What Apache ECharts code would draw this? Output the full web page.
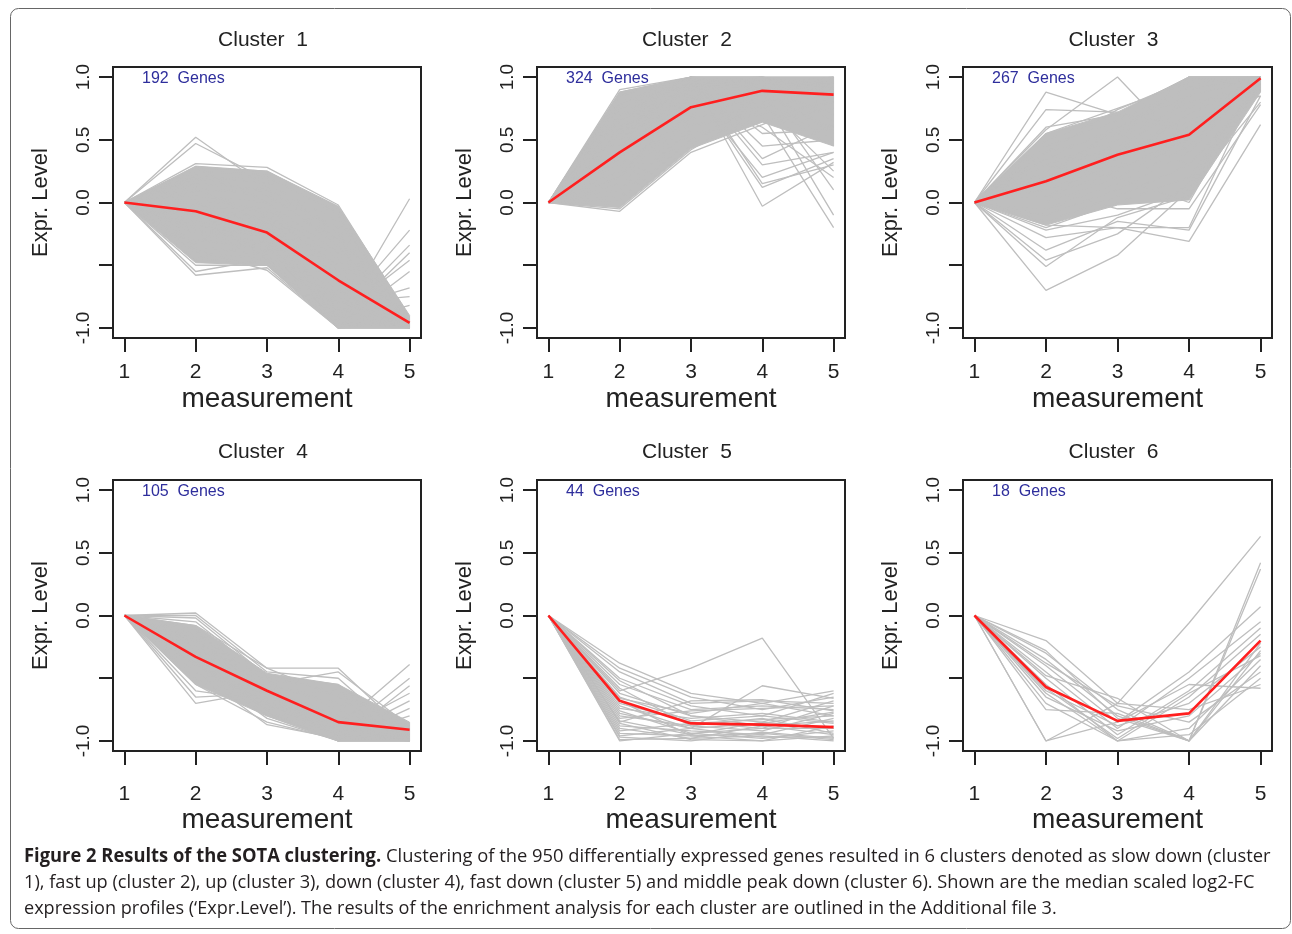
<!DOCTYPE html>
<html>
<head>
<meta charset="utf-8">
<script src="https://cdn.jsdelivr.net/npm/echarts@6/dist/echarts.min.js"></script>
<style>
html,body{margin:0;padding:0;background:#fff;}
#chart{width:1292px;height:934px;}
</style>
</head>
<body>
<div id="chart"></div>
<script>
// ---------------- data ----------------
const measurements = [1, 2, 3, 4, 5];
const yTickValues = [-1, -0.5, 0, 0.5, 1];
const yLabelValues = [-1, 0, 0.5, 1];
const clusterTitles = ['Cluster  1', 'Cluster  2', 'Cluster  3', 'Cluster  4', 'Cluster  5', 'Cluster  6'];
const geneCounts = [192, 324, 267, 105, 44, 18];

// median profiles (red)
const median1 = [0, -0.07, -0.24, -0.62, -0.96];
const median2 = [0, 0.40, 0.76, 0.89, 0.86];
const median3 = [0, 0.17, 0.38, 0.54, 0.99];
const median4 = [0, -0.33, -0.60, -0.85, -0.91];
const median5 = [0, -0.68, -0.86, -0.87, -0.89];
const median6 = [0, -0.57, -0.84, -0.78, -0.20];

// dense core of overlapping gene profiles (upper / lower edge at each measurement)
const band1High = [0, 0.29, 0.25, -0.03, -0.90];
const band1Low  = [0, -0.48, -0.50, -1.00, -1.00];
const band2High = [0, 0.88, 1.00, 1.00, 1.00];
const band2Low  = [0, -0.04, 0.43, 0.64, 0.45];
const band3High = [0, 0.55, 0.72, 1.00, 1.00];
const band3Low  = [0, -0.18, -0.02, 0.02, 0.88];
const band4High = [0, -0.08, -0.46, -0.55, -0.85];
const band4Low  = [0, -0.55, -0.80, -1.00, -1.00];

// individual gene profiles (grey)
const genes1 = [
  [0, 0.52, 0.12, -0.30, -0.96], [0, 0.47, 0.18, -0.25, -1.00], [0, 0.31, 0.28, -0.02, -0.92],
  [0, 0.28, 0.25, -0.05, -0.98], [0, 0.25, 0.22, -0.10, -1.00], [0, 0.22, 0.15, -0.15, -0.95],
  [0, 0.18, 0.20, -0.08, -1.00], [0, 0.15, 0.10, -0.20, -0.98], [0, 0.12, 0.05, -0.30, -1.00],
  [0, 0.08, 0.12, -0.25, -0.94], [0, 0.05, 0.00, -0.40, -1.00], [0, 0.02, -0.05, -0.45, -0.97],
  [0, -0.02, -0.08, -0.55, -1.00], [0, -0.05, -0.12, -0.60, -0.99], [0, -0.08, -0.15, -0.65, -1.00],
  [0, -0.12, -0.20, -0.70, -0.96], [0, -0.15, -0.25, -0.75, -1.00], [0, -0.18, -0.28, -0.80, -0.98],
  [0, -0.22, -0.32, -0.85, -1.00], [0, -0.25, -0.35, -0.90, -1.00], [0, -0.30, -0.38, -0.95, -1.00],
  [0, -0.35, -0.42, -1.00, -1.00], [0, -0.40, -0.45, -0.98, -0.95], [0, -0.45, -0.48, -1.00, -1.00],
  [0, -0.50, -0.50, -1.00, -0.98], [0, -0.55, -0.45, -0.95, -1.00], [0, -0.58, -0.52, -1.00, -0.92],
  [0, -0.38, -0.54, -1.00, -1.00], [0, -0.10, -0.30, -0.94, 0.03], [0, -0.20, -0.25, -0.88, -0.22],
  [0, 0.00, -0.20, -0.92, -0.34], [0, -0.30, -0.35, -0.95, -0.40], [0, 0.10, -0.10, -0.90, -0.46],
  [0, -0.15, -0.40, -0.98, -0.55], [0, -0.25, -0.15, -0.85, -0.68], [0, 0.05, 0.05, -0.80, -0.75],
  [0, -0.05, -0.45, -0.97, -0.82], [0, 0.20, 0.08, -0.35, -0.99], [0, -0.32, -0.10, -0.50, -1.00],
  [0, 0.12, -0.18, -0.70, -0.97], [0, -0.45, -0.30, -0.78, -1.00], [0, 0.28, 0.00, -0.60, -0.95]
];
const genes2 = [
  [0, 0.90, 1.00, 1.00, 1.00], [0, 0.88, 1.00, 0.98, 0.95], [0, 0.85, 0.98, 1.00, 0.90],
  [0, 0.80, 1.00, 0.95, 1.00], [0, 0.75, 0.95, 1.00, 0.85], [0, 0.70, 1.00, 0.90, 0.98],
  [0, 0.65, 0.92, 0.97, 0.80], [0, 0.60, 0.90, 1.00, 0.75], [0, 0.55, 0.88, 0.85, 1.00],
  [0, 0.50, 0.85, 0.92, 0.70], [0, 0.45, 0.82, 0.88, 0.95], [0, 0.40, 0.78, 0.95, 0.65],
  [0, 0.35, 0.75, 0.80, 0.90], [0, 0.30, 0.70, 0.85, 0.60], [0, 0.25, 0.68, 0.75, 0.88],
  [0, 0.20, 0.65, 0.90, 0.55], [0, 0.15, 0.62, 0.70, 0.80], [0, 0.10, 0.58, 0.82, 0.50],
  [0, 0.05, 0.55, 0.65, 0.75], [0, 0.02, 0.50, 0.78, 0.45], [0, -0.03, 0.45, 0.88, 0.70],
  [0, -0.05, 0.42, 0.75, 0.60], [0, -0.07, 0.40, 0.62, 0.85], [0, 0.60, 1.00, 0.45, 0.50],
  [0, 0.70, 1.00, 0.35, 0.62], [0, 0.50, 0.98, 0.30, 0.40], [0, 0.45, 1.00, 0.15, 0.30],
  [0, 0.55, 0.95, 0.12, 0.35], [0, 0.65, 1.00, -0.03, 0.32], [0, 0.40, 0.90, 0.20, 0.40],
  [0, 0.80, 1.00, 0.80, 0.25], [0, 0.35, 0.96, 0.90, 0.10], [0, 0.60, 0.94, 0.85, -0.10],
  [0, 0.75, 1.00, 0.70, -0.20], [0, 0.20, 0.85, 0.60, 0.20], [0, 0.85, 1.00, 0.55, 0.58],
  [0, 0.68, 1.00, 1.00, 0.92], [0, 0.78, 0.97, 0.93, 0.96], [0, 0.58, 0.93, 0.96, 0.88]
];
const genes3 = [
  [0, 0.88, 0.70, 0.55, 0.95], [0, 0.74, 0.72, 0.60, 1.00], [0, 0.58, 1.00, 0.40, 1.00],
  [0, 0.55, 0.75, 0.95, 1.00], [0, 0.50, 0.70, 1.00, 1.00], [0, 0.45, 0.65, 0.92, 0.98],
  [0, 0.40, 0.55, 1.00, 1.00], [0, 0.35, 0.60, 0.85, 1.00], [0, 0.30, 0.50, 0.80, 0.90],
  [0, 0.25, 0.45, 0.75, 1.00], [0, 0.20, 0.40, 0.70, 1.00], [0, 0.15, 0.35, 0.65, 0.85],
  [0, 0.10, 0.30, 0.60, 1.00], [0, 0.05, 0.25, 0.55, 1.00], [0, 0.00, 0.20, 0.50, 0.95],
  [0, -0.05, 0.15, 0.45, 1.00], [0, -0.10, 0.10, 0.40, 1.00], [0, -0.15, 0.05, 0.30, 0.90],
  [0, -0.20, 0.00, 0.20, 1.00], [0, -0.22, -0.10, 0.10, 0.80], [0, 0.30, 0.20, 0.00, 1.00],
  [0, 0.10, -0.05, -0.05, 0.78], [0, -0.18, -0.20, -0.20, 1.00], [0, -0.38, -0.15, -0.22, 0.85],
  [0, -0.46, -0.25, 0.15, 1.00], [0, -0.51, -0.12, 0.05, 0.95], [0, -0.70, -0.42, 0.10, 1.00],
  [0, -0.28, -0.20, -0.31, 0.62], [0, 0.60, 0.70, 1.00, 1.00], [0, 0.40, 0.74, 0.98, 1.00],
  [0, 0.20, 0.60, 0.90, 1.00], [0, 0.00, 0.50, 1.00, 1.00], [0, 0.35, 0.40, 0.85, 1.00],
  [0, 0.05, 0.35, 0.70, 0.97], [0, -0.10, 0.28, 0.50, 1.00], [0, 0.25, 0.55, 0.30, 0.92]
];
const genes4 = [
  [0, 0.02, -0.42, -0.42, -0.95], [0, 0.00, -0.45, -0.50, -1.00], [0, -0.02, -0.48, -0.55, -0.98],
  [0, -0.05, -0.50, -0.60, -0.90], [0, -0.08, -0.42, -0.65, -1.00], [0, -0.10, -0.55, -0.70, -0.97],
  [0, -0.15, -0.52, -0.75, -1.00], [0, -0.18, -0.58, -0.80, -0.95], [0, -0.20, -0.60, -0.85, -1.00],
  [0, -0.25, -0.62, -0.88, -0.98], [0, -0.28, -0.65, -0.90, -1.00], [0, -0.30, -0.68, -0.92, -0.96],
  [0, -0.35, -0.70, -0.95, -1.00], [0, -0.38, -0.72, -0.97, -0.99], [0, -0.40, -0.75, -1.00, -1.00],
  [0, -0.45, -0.78, -0.98, -0.95], [0, -0.50, -0.80, -1.00, -1.00], [0, -0.55, -0.85, -0.99, -0.97],
  [0, -0.60, -0.68, -0.95, -1.00], [0, -0.65, -0.62, -0.90, -0.98], [0, -0.70, -0.60, -1.00, -1.00],
  [0, -0.12, -0.60, -0.88, -0.39], [0, -0.22, -0.65, -0.95, -0.50], [0, -0.35, -0.75, -1.00, -0.56],
  [0, -0.30, -0.70, -0.92, -0.62], [0, -0.20, -0.78, -0.97, -0.68], [0, -0.40, -0.82, -1.00, -0.74],
  [0, -0.45, -0.87, -0.98, -0.80], [0, -0.25, -0.55, -0.45, -0.88], [0, -0.32, -0.58, -0.62, -0.93]
];
const genes5 = [
  [0, -0.38, -0.62, -0.70, -0.60], [0, -0.42, -0.65, -0.75, -0.65], [0, -0.45, -0.70, -0.68, -0.70],
  [0, -0.50, -0.72, -0.80, -0.62], [0, -0.55, -0.75, -0.72, -0.75], [0, -0.60, -0.42, -0.18, -0.98],
  [0, -0.62, -0.80, -0.85, -0.68], [0, -0.66, -0.78, -0.70, -0.80], [0, -0.70, -0.85, -0.90, -0.72],
  [0, -0.74, -0.82, -0.78, -0.85], [0, -0.78, -0.90, -0.56, -0.66], [0, -0.80, -0.88, -0.92, -0.78],
  [0, -0.84, -0.95, -0.85, -0.90], [0, -0.88, -0.92, -0.95, -0.82], [0, -0.90, -0.98, -0.88, -0.95],
  [0, -0.94, -0.96, -1.00, -0.88], [0, -0.97, -1.00, -0.93, -0.98], [0, -1.00, -0.94, -0.98, -0.92],
  [0, -0.99, -0.98, -0.96, -1.00], [0, -0.85, -0.68, -0.67, -0.76], [0, -0.72, -0.90, -0.97, -0.97],
  [0, -0.58, -0.88, -0.82, -0.94], [0, -0.65, -0.84, -0.80, -0.86], [0, -0.76, -0.94, -0.90, -0.90],
  [0, -0.82, -0.76, -0.74, -0.72], [0, -0.92, -0.86, -0.83, -0.80], [0, -0.52, -0.80, -0.88, -0.84],
  [0, -0.68, -0.96, -0.94, -0.99], [0, -0.96, -0.90, -0.86, -0.77], [0, -0.86, -0.99, -1.00, -0.96]
];
const genes6 = [
  [0, -0.20, -0.70, -0.06, 0.63], [0, -0.30, -0.75, -1.00, 0.42], [0, -0.35, -0.80, -1.00, 0.37],
  [0, -0.40, -0.85, -0.45, 0.07], [0, -0.45, -0.90, -0.50, -0.05], [0, -0.50, -0.95, -0.60, -0.10],
  [0, -0.55, -1.00, -0.65, -0.15], [0, -0.60, -0.88, -0.70, -0.25], [0, -0.65, -0.92, -0.80, -0.30],
  [0, -0.70, -1.00, -0.90, -0.35], [0, -0.75, -0.78, -1.00, -0.40], [0, -0.62, -1.00, -0.95, -0.50],
  [0, -1.00, -0.70, -0.75, -0.55], [0, -1.00, -0.85, -0.55, -0.58], [0, -0.48, -0.66, -1.00, -0.28],
  [0, -0.38, -0.72, -0.85, -0.45], [0, -0.58, -0.98, -0.62, -0.32], [0, -0.28, -0.82, -1.00, -0.22]
];

const captionBold = 'Figure 2 Results of the SOTA clustering.';
const captionLines = [
  ' Clustering of the 950 differentially expressed genes resulted in 6 clusters denoted as slow down (cluster',
  '1), fast up (cluster 2), up (cluster 3), down (cluster 4), fast down (cluster 5) and middle peak down (cluster 6). Shown are the median scaled log2-FC',
  'expression profiles (\u2018Expr.Level\u2019). The results of the enrichment analysis for each cluster are outlined in the Additional file 3.'
];

// ---------------- layout ----------------
const geneSets = [genes1, genes2, genes3, genes4, genes5, genes6];
const medians = [median1, median2, median3, median4, median5, median6];
const bandHighs = [band1High, band2High, band3High, band4High, null, null];
const bandLows = [band1Low, band2Low, band3Low, band4Low, null, null];
const colLeft = [113, 537, 963];
const colWidth = [308, 308, 309];
const rowTop = [67, 480];
const boxH = 271;
const rowLabelMargin = [24, 33];
const rowNameGap = [47, 55];
const rowTitleY = [40, 452];
const rowGenesY = [79, 492];
const FONT = 'Liberation Sans, Arial, Helvetica, sans-serif';
const INK = '#222';
const GREY = '#bebebe';

const grids = [], xAxes = [], yAxes = [], series = [], graphics = [];

for (let i = 0; i < 6; i++) {
  const c = i % 3, r = Math.floor(i / 3);
  const left = colLeft[c], top = rowTop[r], w = colWidth[c];
  grids.push({left: left, top: top, width: w, height: boxH, show: true,
    borderColor: INK, borderWidth: 2, backgroundColor: 'transparent'});
  xAxes.push({
    gridIndex: i, type: 'value', min: 0.84, max: 5.16,
    axisLine: {show: false, onZero: false},
    splitLine: {show: false},
    axisTick: {show: true, customValues: measurements, length: 14, lineStyle: {color: INK, width: 2}},
    axisLabel: {customValues: measurements, margin: rowLabelMargin[r], fontSize: 21, color: INK, fontFamily: FONT,
      formatter: v => String(v)},
    name: 'measurement', nameLocation: 'middle', nameGap: rowNameGap[r],
    nameTextStyle: {fontSize: 28, color: INK, fontFamily: FONT}
  });
  yAxes.push({
    gridIndex: i, type: 'value', min: -1.08, max: 1.08,
    axisLine: {show: false, onZero: false},
    splitLine: {show: false},
    axisTick: {show: true, customValues: yTickValues, length: 14, lineStyle: {color: INK, width: 2}},
    axisLabel: {customValues: yLabelValues, rotate: 90, margin: 20, fontSize: 19, color: INK, fontFamily: FONT,
      formatter: v => v.toFixed(1)},
    name: 'Expr. Level', nameLocation: 'middle', nameGap: 61,
    nameTextStyle: {fontSize: 22, color: INK, fontFamily: FONT}
  });
  if (bandHighs[i]) {
    const hi = bandHighs[i], lo = bandLows[i];
    series.push({
      type: 'custom', coordinateSystem: 'cartesian2d', xAxisIndex: i, yAxisIndex: i,
      silent: true, animation: false, z: 1,
      data: [0],
      renderItem: function (params, api) {
        const pts = [];
        for (let k = 0; k < measurements.length; k++) pts.push(api.coord([measurements[k], hi[k]]));
        for (let k = measurements.length - 1; k >= 0; k--) pts.push(api.coord([measurements[k], lo[k]]));
        return {type: 'polygon', shape: {points: pts}, style: {fill: GREY, stroke: GREY, lineWidth: 1}};
      }
    });
  }
  geneSets[i].forEach(g => {
    series.push({
      type: 'line', xAxisIndex: i, yAxisIndex: i, silent: true, animation: false,
      symbol: 'none', z: 2,
      lineStyle: {color: GREY, width: 1.3},
      data: g.map((v, k) => [measurements[k], v])
    });
  });
  series.push({
    type: 'line', xAxisIndex: i, yAxisIndex: i, silent: true, animation: false,
    symbol: 'none', z: 3,
    lineStyle: {color: '#ff1f1f', width: 2.6},
    data: medians[i].map((v, k) => [measurements[k], v])
  });
  graphics.push({type: 'text', x: left + w / 2 - 4, y: rowTitleY[r], z: 100,
    style: {text: clusterTitles[i], fontSize: 21, fontFamily: FONT, fill: INK,
      align: 'center', verticalAlign: 'middle', textAlign: 'center', textVerticalAlign: 'middle'}});
  graphics.push({type: 'text', x: left + 29, y: rowGenesY[r], z: 100,
    style: {text: geneCounts[i] + '  Genes', fontSize: 16, fontFamily: FONT, fill: '#2e2e9c',
      align: 'left', verticalAlign: 'middle', textAlign: 'left', textVerticalAlign: 'middle'}});
}

// outer frame
graphics.push({type: 'rect', shape: {x: 10.5, y: 8.5, width: 1280, height: 920, r: 8},
  style: {fill: 'none', stroke: '#666', lineWidth: 1}, z: -1});

// caption
const capFont = '"Open Sans", "Noto Sans", sans-serif';
const capY = [857, 883, 909];
const capScale = [0.966, 0.959, 0.952];
captionLines.forEach((line, k) => {
  const text = k === 0 ? '{b|' + captionBold + '}' + line : line;
  graphics.push({type: 'text', x: 24, y: capY[k], scaleX: capScale[k], z: 100,
    style: {text: text, fontSize: 19, fontFamily: capFont, fill: '#231f20',
      align: 'left', verticalAlign: 'middle', textAlign: 'left', textVerticalAlign: 'middle',
      rich: {b: {fontSize: 19, fontFamily: capFont, fontWeight: 'bold', fill: '#231f20'}}}});
});

const chart = echarts.init(document.getElementById('chart'), null, {renderer: 'canvas'});
chart.setOption({
  animation: false,
  backgroundColor: '#fff',
  grid: grids, xAxis: xAxes, yAxis: yAxes, series: series,
  graphic: {elements: graphics}
});
</script>
</body>
</html>
